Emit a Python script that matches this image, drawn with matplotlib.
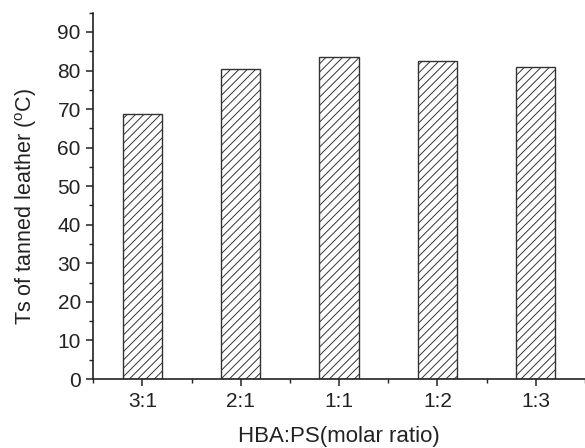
import matplotlib
matplotlib.use("Agg")
import matplotlib.pyplot as plt
from matplotlib.ticker import MultipleLocator, FixedLocator

categories = ["3:1", "2:1", "1:1", "1:2", "1:3"]
ts_values = [68.7, 80.3, 83.6, 82.4, 80.8]

plt.rcParams['font.family'] = ['Liberation Sans', 'DejaVu Sans']
plt.rcParams['hatch.linewidth'] = 0.7
plt.rcParams['hatch.color'] = '#222222'

fig = plt.figure(figsize=(5.85, 4.48), dpi=100)
ax = fig.add_axes([0.1595, 0.154, 0.8405, 0.8177])

x = list(range(len(categories)))
ax.bar(x, ts_values, width=0.4, facecolor='white', edgecolor='#333333',
       linewidth=1.0, hatch='////')

ax.set_xlim(-0.5, 4.5)
ax.set_ylim(0, 95)
ax.set_xticks(x)
ax.set_xticklabels(categories)
ax.xaxis.set_minor_locator(FixedLocator([i + 0.5 for i in range(-1, len(categories))]))
ax.yaxis.set_major_locator(MultipleLocator(10))
ax.yaxis.set_minor_locator(MultipleLocator(5))

for s in ['top', 'right']:
    ax.spines[s].set_visible(False)
for s in ['left', 'bottom']:
    ax.spines[s].set_color('#222222')
    ax.spines[s].set_linewidth(1.2)

ax.tick_params(axis='both', which='major', direction='out', length=5, width=1.1,
               color='#222222', labelsize=15, labelcolor='#222222', pad=4)
ax.tick_params(axis='both', which='minor', direction='out', length=3, width=1.0,
               color='#222222')

ax.set_xlabel("HBA:PS(molar ratio)", fontsize=16, color='#222222', labelpad=11)
ax.set_ylabel("Ts of tanned leather ($\\mathregular{^{o}}$C)",
              fontsize=15.5, color='#222222')
ax.yaxis.set_label_coords(-0.111, 0.472)

fig.savefig("out.png", dpi=100)
